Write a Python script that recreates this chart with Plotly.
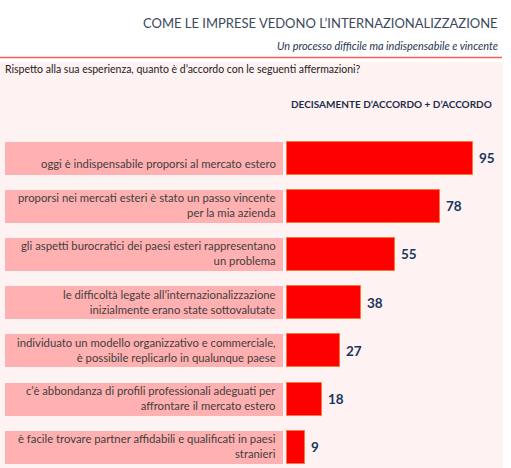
import plotly.graph_objects as go

# ---- data ----
statements = [
    "oggi è indispensabile proporsi al mercato estero",
    "proporsi nei mercati esteri è stato un passo vincente<br>per la mia azienda",
    "gli aspetti burocratici dei paesi esteri rappresentano<br>un problema",
    "le difficoltà legate all’internazionalizzazione<br>inizialmente erano state sottovalutate",
    "individuato un modello organizzativo e commerciale,<br>è possibile replicarlo in qualunque paese",
    "c’è abbondanza di profili professionali adeguati per<br>affrontare il mercato estero",
    "è facile trovare partner affidabili e qualificati in paesi<br>stranieri",
]
values = [95, 78, 55, 38, 27, 18, 9]

title = "COME LE IMPRESE VEDONO L’INTERNAZIONALIZZAZIONE"
subtitle = "Un processo difficile ma indispensabile e vincente"
question = "Rispetto alla sua esperienza, quanto è d’accordo con le seguenti affermazioni?"
col_header = "DECISAMENTE D’ACCORDO + D’ACCORDO"

# ---- layout geometry (pixels) ----
W, H = 511, 468
x0_px = 287.0            # where value 0 sits
px_per_unit = (473 - 287) / 95.0
y0_px = 158.0            # centre of first bar
pitch = 48.2
bar_h = 33.0

x_min = -x0_px / px_per_unit
x_max = (W - x0_px) / px_per_unit
y_top = -y0_px / pitch
y_bot = (H - y0_px) / pitch

pos = list(range(len(values)))

# label boxes span from pixel 5 to 283
box_left = (5 - x0_px) / px_per_unit
box_right = (283 - x0_px) / px_per_unit

fig = go.Figure()

fig.add_trace(go.Bar(
    y=pos, x=[box_right - box_left] * len(pos), base=[box_left] * len(pos),
    orientation="h", width=bar_h / pitch,
    marker=dict(color="#ffb0b0", line=dict(width=0)),
    hoverinfo="skip", showlegend=False,
))
fig.add_trace(go.Bar(
    y=pos, x=values, orientation="h", width=bar_h / pitch,
    marker=dict(color="#ff0000", line=dict(color="#f5793a", width=1)),
    showlegend=False,
))

# statement labels (single-line labels sit low in their box, as in the original)
for p, s in zip(pos, statements):
    fig.add_annotation(
        x=(278 - x0_px) / px_per_unit, y=p, xref="x", yref="y",
        text=s, showarrow=False, xanchor="right", yanchor="middle",
        yshift=(-5 if "<br>" not in s else 1),
        align="right", font=dict(family="Lato", size=11.3, color="#3f3f3f"),
    )
# value labels
for p, v in zip(pos, values):
    fig.add_annotation(
        x=v, y=p, xref="x", yref="y", text=f"<b>{v}</b>", showarrow=False,
        xanchor="left", yanchor="middle", xshift=4,
        font=dict(family="Lato", size=13.5, color="#17375e"),
    )

# header texts
fig.add_annotation(x=500 / W, y=1 - 23 / H, xref="paper", yref="paper",
                   text=title, showarrow=False, xanchor="right", yanchor="middle",
                   font=dict(family="Lato", size=13, color="#3b4a5c"))
fig.add_annotation(x=500 / W, y=1 - 46 / H, xref="paper", yref="paper",
                   text=f"<i>{subtitle}</i>", showarrow=False, xanchor="right",
                   yanchor="middle", font=dict(family="Lato", size=10.9, color="#1f3550"))
fig.add_annotation(x=3 / W, y=1 - 69 / H, xref="paper", yref="paper",
                   text=question, showarrow=False, xanchor="left", yanchor="middle",
                   font=dict(family="Lato", size=10.5, color="#222222"))
fig.add_annotation(x=391 / W, y=1 - 104 / H, xref="paper", yref="paper",
                   text=f"<b>{col_header}</b>", showarrow=False, xanchor="center",
                   yanchor="middle", font=dict(family="Lato", size=10, color="#1c2f4a"))

# background panel and red rule
fig.add_shape(type="rect", xref="paper", yref="paper", x0=0, x1=503 / W,
              y0=0, y1=1 - 62 / H, fillcolor="#fff2f2", line=dict(width=0), layer="below")
fig.add_shape(type="line", xref="paper", yref="paper", x0=0, x1=502 / W,
              y0=1 - 57.5 / H, y1=1 - 57.5 / H, line=dict(color="#ff5a5a", width=1.5))

fig.update_layout(
    width=W, height=H, margin=dict(l=0, r=0, t=0, b=0),
    paper_bgcolor="white", plot_bgcolor="rgba(0,0,0,0)",
    barmode="overlay", bargap=0,
    xaxis=dict(range=[x_min, x_max], visible=False, fixedrange=True),
    yaxis=dict(range=[y_bot, y_top], visible=False, fixedrange=True),
)

fig.write_html("out.html")
